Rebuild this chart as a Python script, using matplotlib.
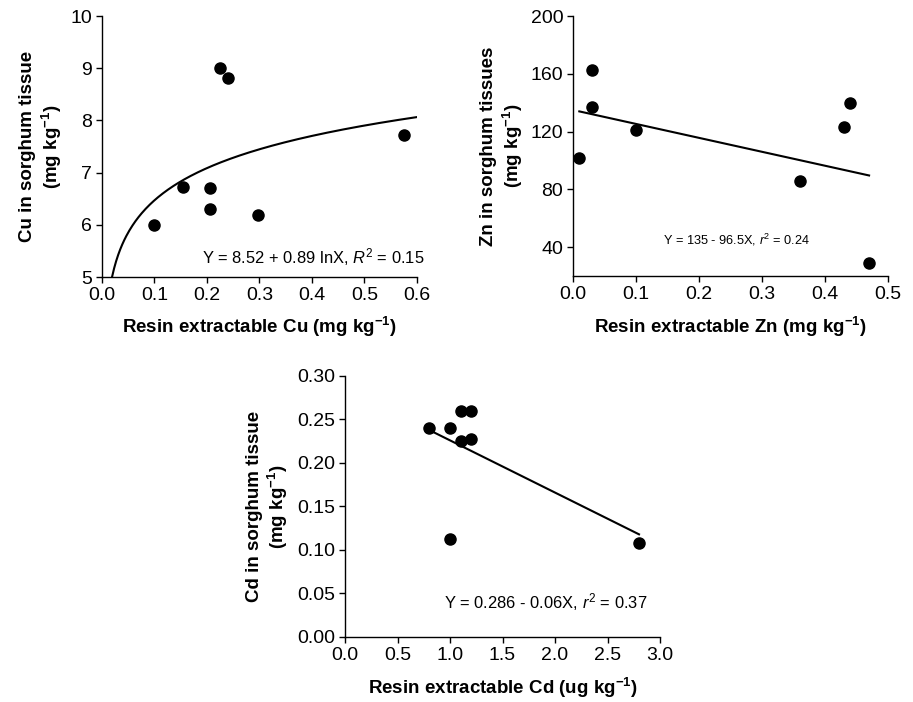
import numpy as np
import matplotlib
matplotlib.use("Agg")
import matplotlib.pyplot as plt

plt.rcParams['font.family'] = ['Liberation Sans', 'DejaVu Sans']
plt.rcParams['mathtext.fontset'] = 'custom'
plt.rcParams['mathtext.rm'] = 'Liberation Sans'
plt.rcParams['mathtext.it'] = 'Liberation Sans:italic'
plt.rcParams['mathtext.bf'] = 'Liberation Sans:bold'

# Cu panel
cu_x = [0.1, 0.155, 0.205, 0.205, 0.225, 0.24, 0.297, 0.575]
cu_y = [6.0, 6.73, 6.71, 6.31, 9.0, 8.81, 6.18, 7.73]
# Zn panel
zn_x = [0.01, 0.03, 0.03, 0.1, 0.36, 0.43, 0.44, 0.47]
zn_y = [102, 163, 137, 121, 86, 123, 140, 29]
# Cd panel
cd_x = [0.8, 1.0, 1.1, 1.2, 1.1, 1.2, 1.0, 2.8]
cd_y = [0.24, 0.24, 0.26, 0.26, 0.225, 0.228, 0.113, 0.108]

fig = plt.figure(figsize=(9.13, 7.02), dpi=100)
ax1 = fig.add_axes([0.1117, 0.6054, 0.345, 0.3716])
ax2 = fig.add_axes([0.6276, 0.6068, 0.345, 0.3702])
ax3 = fig.add_axes([0.3779, 0.0926, 0.345, 0.3718])

LBL = 13.5
TCK = 14


def style(ax):
    for s in ['top', 'right']:
        ax.spines[s].set_visible(False)
    for s in ['left', 'bottom']:
        ax.spines[s].set_linewidth(1.0)
    ax.tick_params(direction='out', length=4, width=1, labelsize=TCK, pad=3)


# panel 1
style(ax1)
xc = np.linspace(0.0192, 0.6, 300)
ax1.plot(xc, 8.52 + 0.89 * np.log(xc), color='black', lw=1.5)
ax1.plot(cu_x, cu_y, 'o', color='black', ms=8, clip_on=False)
ax1.set_xlim(0, 0.6)
ax1.set_ylim(5, 10)
ax1.set_xticks(np.arange(0, 0.61, 0.1))
ax1.set_xticklabels([f"{v:.1f}" for v in np.arange(0, 0.61, 0.1)])
ax1.set_yticks(range(5, 11))
ax1.set_xlabel(r"Resin extractable Cu (mg kg$^{\mathbf{-1}}$)", fontsize=LBL, fontweight='bold', labelpad=8)
ax1.set_ylabel("Cu in sorghum tissue\n" + r"(mg kg$^{\mathbf{-1}}$)", fontsize=LBL, fontweight='bold', labelpad=5)
ax1.text(1.025, 0.077, r"Y = 8.52 + 0.89 lnX, $\mathit{R}^2$ = 0.15", transform=ax1.transAxes,
         ha='right', va='center', fontsize=11.9)

# panel 2
style(ax2)
xl = np.array([0.01, 0.47])
ax2.plot(xl, 135 - 96.5 * xl, color='black', lw=1.5)
ax2.plot(zn_x, zn_y, 'o', color='black', ms=8, clip_on=False)
ax2.set_xlim(0, 0.5)
ax2.set_ylim(20, 200)
ax2.set_xticks(np.arange(0, 0.51, 0.1))
ax2.set_xticklabels([f"{v:.1f}" for v in np.arange(0, 0.51, 0.1)])
ax2.set_yticks([40, 80, 120, 160, 200])
ax2.set_xlabel(r"Resin extractable Zn (mg kg$^{\mathbf{-1}}$)", fontsize=LBL, fontweight='bold', labelpad=9)
ax2.set_ylabel("Zn in sorghum tissues\n" + r"(mg kg$^{\mathbf{-1}}$)", fontsize=LBL, fontweight='bold', labelpad=4)
ax2.text(0.519, 0.138, r"Y = 135 - 96.5X, $\mathit{r}^2$ = 0.24", transform=ax2.transAxes,
         ha='center', va='center', fontsize=9.2)

# panel 3
style(ax3)
xl = np.array([0.8, 2.8])
ax3.plot(xl, 0.286 - 0.06 * xl, color='black', lw=1.5)
ax3.plot(cd_x, cd_y, 'o', color='black', ms=8, clip_on=False)
ax3.set_xlim(0, 3.0)
ax3.set_ylim(0, 0.30)
ax3.set_xticks(np.arange(0, 3.01, 0.5))
ax3.set_xticklabels([f"{v:.1f}" for v in np.arange(0, 3.01, 0.5)])
ax3.set_yticks(np.arange(0, 0.301, 0.05))
ax3.set_yticklabels([f"{v:.2f}" for v in np.arange(0, 0.301, 0.05)])
ax3.set_xlabel(r"Resin extractable Cd (ug kg$^{\mathbf{-1}}$)", fontsize=LBL, fontweight='bold', labelpad=9)
ax3.set_ylabel("Cd in sorghum tissue\n" + r"(mg kg$^{\mathbf{-1}}$)", fontsize=LBL, fontweight='bold', labelpad=5)
ax3.text(0.959, 0.134, r"Y = 0.286 - 0.06X, $\mathit{r}^2$ = 0.37", transform=ax3.transAxes,
         ha='right', va='center', fontsize=11.9)

fig.savefig("out.png", dpi=100)
